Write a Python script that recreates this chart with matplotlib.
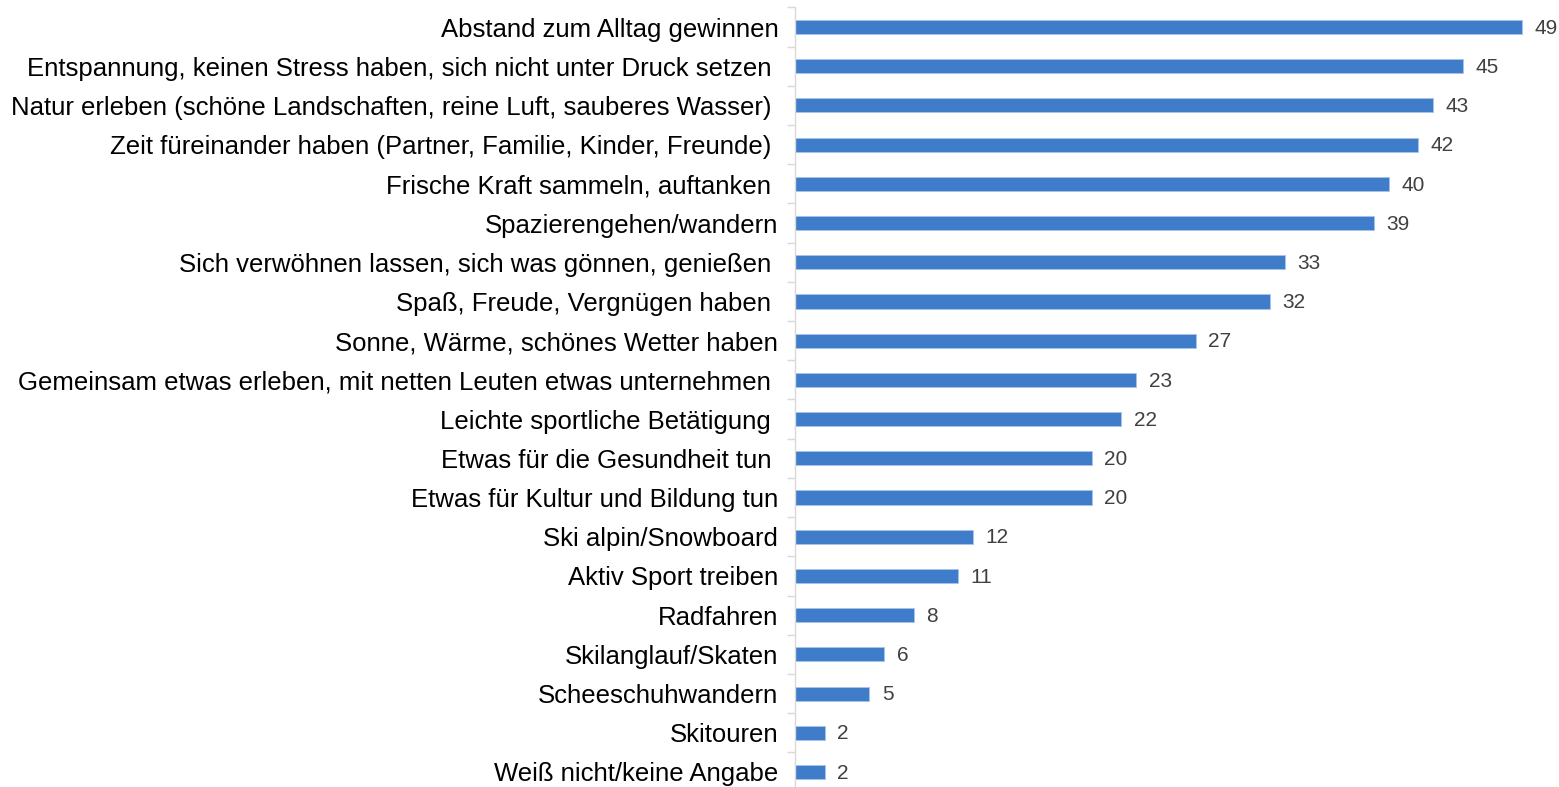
import matplotlib
matplotlib.use('Agg')
import matplotlib.pyplot as plt
import numpy as np

plt.rcParams['font.family'] = ['Liberation Sans', 'DejaVu Sans']

# Daten
labels = [
    'Abstand zum Alltag gewinnen',
    'Entspannung, keinen Stress haben, sich nicht unter Druck setzen ',
    'Natur erleben (schöne Landschaften, reine Luft, sauberes Wasser) ',
    'Zeit füreinander haben (Partner, Familie, Kinder, Freunde) ',
    'Frische Kraft sammeln, auftanken ',
    'Spazierengehen/wandern',
    'Sich verwöhnen lassen, sich was gönnen, genießen ',
    'Spaß, Freude, Vergnügen haben ',
    'Sonne, Wärme, schönes Wetter haben',
    'Gemeinsam etwas erleben, mit netten Leuten etwas unternehmen ',
    'Leichte sportliche Betätigung ',
    'Etwas für die Gesundheit tun ',
    'Etwas für Kultur und Bildung tun',
    'Ski alpin/Snowboard',
    'Aktiv Sport treiben',
    'Radfahren',
    'Skilanglauf/Skaten',
    'Scheeschuhwandern',
    'Skitouren',
    'Weiß nicht/keine Angabe',
]
values = [49, 45, 43, 42, 40, 39, 33, 32, 27, 23, 22, 20, 20, 12, 11, 8, 6, 5, 2, 2]

BAR = '#3F7DCB'
GREY_TXT = '#404040'

W, H = 1559, 787
fig = plt.figure(figsize=(W / 100, H / 100), dpi=100)
ax = fig.add_axes([795 / W, -4.6 / H, (1537 - 795) / W, (787 - 7.4 + 4.6) / H])

y = np.arange(len(labels))
ax.barh(y, values, height=0.36, color=BAR, edgecolor='#A9C4E8', linewidth=0.6, zorder=2)

for yi, v in zip(y, values):
    ax.text(v + 0.85, yi + 0.03, str(v), va='center', ha='left', fontsize=15, color=GREY_TXT)

ax.set_ylim(len(labels) - 0.5, -0.5)
ax.set_xlim(0, 50)

ax.set_yticks(y)
ax.set_yticklabels(labels, fontsize=18.5, color='black')
ax.tick_params(axis='y', which='major', length=0, pad=12)
ax.set_yticks(np.arange(-0.5, len(labels), 1), minor=True)
ax.tick_params(axis='y', which='minor', length=6, width=1, color='#D9D9D9')
ax.set_xticks([])

for s in ['top', 'right', 'bottom']:
    ax.spines[s].set_visible(False)
ax.spines['left'].set_color('#D9D9D9')
ax.spines['left'].set_linewidth(1)

fig.savefig('out.png', dpi=100, facecolor='white')
